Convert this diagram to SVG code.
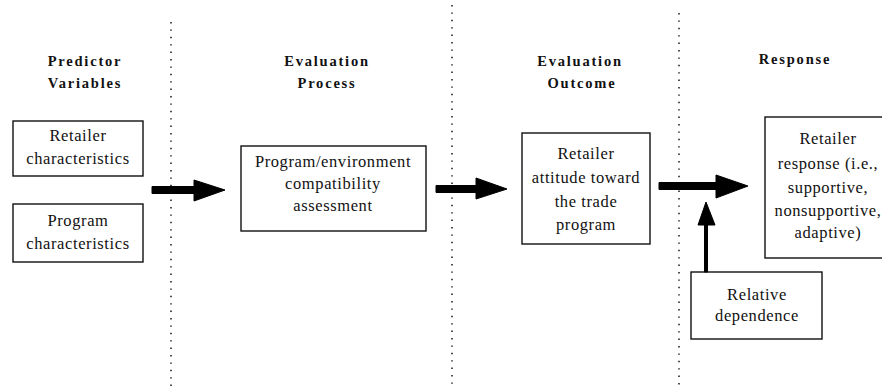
<svg xmlns="http://www.w3.org/2000/svg" width="882" height="387" viewBox="0 0 882 387">
<style>
text{font-family:"Liberation Serif","Times New Roman",serif;fill:#111;text-anchor:middle}
.h{font-size:14.5px;font-weight:bold;letter-spacing:1.8px}
.t{font-size:16.5px;letter-spacing:0.6px}
.box{fill:#fff;stroke:#111;stroke-width:1.4}
.sep{stroke:#222;stroke-width:1.6;stroke-dasharray:1.4 6}
.arr{fill:#000;stroke:#000;stroke-width:1}
</style>
<rect width="882" height="387" fill="#fff"/>
<g id="separators">
<line class="sep" x1="171" y1="22" x2="171" y2="387"/>
<line class="sep" x1="452" y1="5" x2="452" y2="387"/>
<line class="sep" x1="679" y1="13" x2="679" y2="387"/>
</g>
<g id="headers">
<text class="h" x="85" y="66">Predictor</text>
<text class="h" x="85" y="88">Variables</text>
<text class="h" x="327" y="66">Evaluation</text>
<text class="h" x="327" y="88">Process</text>
<text class="h" x="580" y="66">Evaluation</text>
<text class="h" x="582" y="88">Outcome</text>
<text class="h" x="795" y="64">Response</text>
</g>
<g id="node-retailer-characteristics">
<rect class="box" x="13" y="121" width="130" height="55"/>
<text class="t" x="78" y="141">Retailer</text>
<text class="t" x="78" y="164">characteristics</text>
</g>
<g id="node-program-characteristics">
<rect class="box" x="13" y="204" width="130" height="58"/>
<text class="t" x="78" y="226">Program</text>
<text class="t" x="78" y="249">characteristics</text>
</g>
<g id="node-compatibility">
<rect class="box" x="241" y="146" width="185" height="85"/>
<text class="t" x="333" y="167">Program/environment</text>
<text class="t" x="333" y="189">compatibility</text>
<text class="t" x="333" y="211">assessment</text>
</g>
<g id="node-attitude">
<rect class="box" x="522" y="133" width="128" height="111"/>
<text class="t" x="586" y="159">Retailer</text>
<text class="t" x="586" y="183">attitude toward</text>
<text class="t" x="586" y="207">the trade</text>
<text class="t" x="586" y="230">program</text>
</g>
<g id="node-response">
<rect class="box" x="765" y="117" width="130" height="141"/>
<text class="t" x="828" y="144">Retailer</text>
<text class="t" x="828" y="169">response (i.e.,</text>
<text class="t" x="828" y="193">supportive,</text>
<text class="t" x="828" y="216">nonsupportive,</text>
<text class="t" x="828" y="238">adaptive)</text>
</g>
<g id="node-relative-dependence">
<rect class="box" x="691" y="272" width="131" height="67"/>
<text class="t" x="757" y="300">Relative</text>
<text class="t" x="757" y="321">dependence</text>
</g>
<g id="connectors">
<path class="arr" d="M152,186.5 H194 V180 L225,190 L194,201 V193.5 H152 Z"/>
<path class="arr" d="M436,185.5 H476 V178 L507,189 L476,199 V192.5 H436 Z"/>
<path class="arr" d="M659,182.5 H716 V175 L748,186 L716,198 V189.5 H659 Z"/>
<path class="arr" d="M704.5,272 V225 H698 L706,202 L715,225 H707.5 V272 Z"/>
</g>
</svg>
